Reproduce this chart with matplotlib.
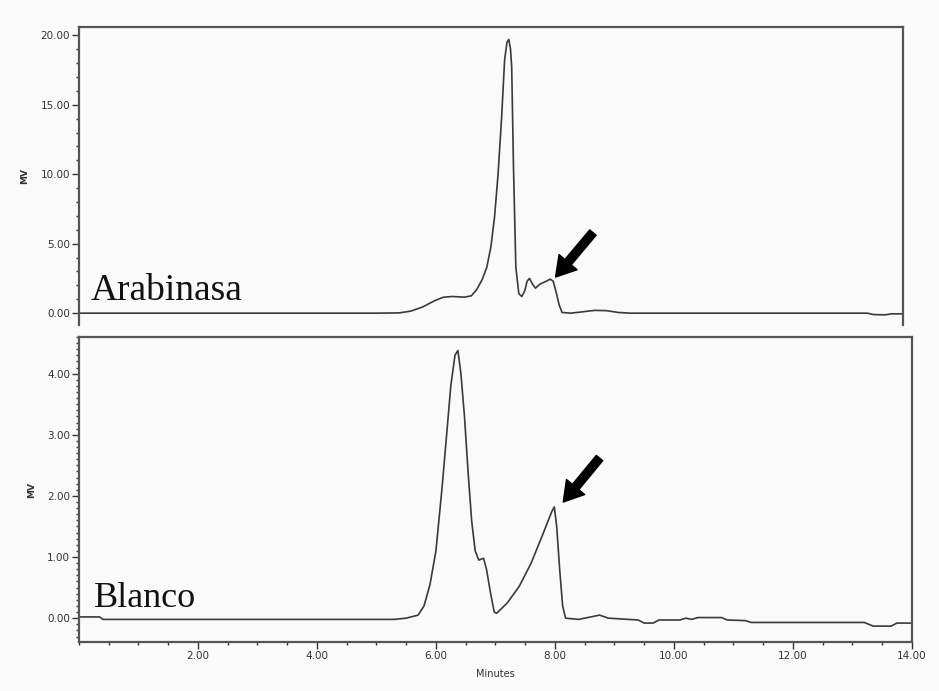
import matplotlib.pyplot as plt
from matplotlib.ticker import MultipleLocator, FormatStrFormatter

# Arabinasa chromatogram (minutes, mV)
t_arab = [0.0, 5.0, 5.4, 5.6, 5.8, 6.0, 6.15, 6.3, 6.5, 6.62, 6.71, 6.8, 6.88,
          6.95, 7.01, 7.07, 7.13, 7.18, 7.22, 7.25, 7.28, 7.3, 7.33, 7.37, 7.42,
          7.47, 7.52, 7.56, 7.6, 7.65, 7.7, 7.78, 7.86, 7.95, 8.0, 8.05, 8.1,
          8.15, 8.3, 8.5, 8.7, 8.9, 9.1, 9.3, 13.3, 13.4, 13.6, 13.7, 13.9]
y_arab = [0.0, 0.0, 0.02, 0.15, 0.45, 0.9, 1.15, 1.2, 1.15, 1.25, 1.7, 2.4, 3.3,
          4.8, 6.9, 10.0, 14.1, 18.2, 19.5, 19.7, 19.0, 17.7, 10.5, 3.3, 1.4,
          1.2, 1.6, 2.3, 2.5, 2.1, 1.8, 2.1, 2.25, 2.45, 2.3, 1.5, 0.6,
          0.05, 0.0, 0.1, 0.2, 0.18, 0.05, 0.0, 0.0, -0.1, -0.12, -0.05, -0.05]

# Blanco chromatogram
t_blan = [0.0, 0.35, 0.4, 5.3, 5.5, 5.7, 5.8, 5.9, 6.0, 6.1, 6.18, 6.25, 6.32,
          6.37, 6.42, 6.48, 6.54, 6.6, 6.66, 6.72, 6.8, 6.85, 6.92, 6.98, 7.02,
          7.2, 7.4, 7.6, 7.8, 7.95, 7.99, 8.03, 8.08, 8.13, 8.18, 8.4, 8.6,
          8.75, 8.9, 9.4, 9.5, 9.65, 9.75, 10.1, 10.2, 10.3, 10.4, 10.8, 10.9,
          11.2, 11.3, 13.2, 13.35, 13.65, 13.75, 14.0]
y_blan = [0.02, 0.02, -0.02, -0.02, 0.0, 0.05, 0.2, 0.55, 1.1, 2.1, 3.0, 3.8, 4.3,
          4.38, 4.0, 3.3, 2.4, 1.6, 1.1, 0.95, 0.98, 0.8, 0.4, 0.1, 0.08,
          0.25, 0.52, 0.9, 1.38, 1.75, 1.82, 1.5, 0.8, 0.2, 0.0, -0.02, 0.02,
          0.05, 0.0, -0.03, -0.08, -0.08, -0.03, -0.03, 0.0, -0.02, 0.01, 0.01, -0.03,
          -0.04, -0.07, -0.07, -0.13, -0.13, -0.08, -0.08]

# arrow tips / tails (minutes, mV)
arrow_arab = ((8.04, 2.6), (8.67, 5.8))
arrow_blan = ((8.14, 1.9), (8.75, 2.62))

bg = '#fafafa'
line_c = '#3a3a3a'
spine_c = '#555555'

fig = plt.figure(figsize=(9.39, 6.91), dpi=100, facecolor=bg)
ax1 = fig.add_axes([0.0841, 0.5297, 0.8775, 0.4313], facecolor=bg)
ax2 = fig.add_axes([0.0841, 0.0709, 0.887, 0.4414], facecolor=bg)

for ax in (ax1, ax2):
    for s in ax.spines.values():
        s.set_color(spine_c)
        s.set_linewidth(1.6)
    ax.tick_params(which='major', length=5, width=1, color='#333333',
                   labelsize=7.5, labelcolor='#333333', pad=1.5)
    ax.tick_params(which='minor', length=2.5, width=1, color='#333333')
    ax.yaxis.set_major_formatter(FormatStrFormatter('%.2f'))
    ax.set_ylabel('MV', fontsize=6.5, fontweight='bold', color='#333333', labelpad=8)

arrow_style = dict(facecolor='black', edgecolor='black', width=6,
                   headwidth=17, headlength=14)

# top panel
ax1.plot(t_arab, y_arab, color=line_c, lw=1.2)
ax1.set_xlim(0, 13.9)
ax1.set_ylim(-0.85, 20.6)
ax1.yaxis.set_major_locator(MultipleLocator(5))
ax1.yaxis.set_minor_locator(MultipleLocator(1))
ax1.spines['bottom'].set_visible(False)
ax1.set_xticks([])
ax1.text(0.2, 0.35, 'Arabinasa', family='Liberation Serif', fontsize=27,
         color='#111111', va='bottom', ha='left')
ax1.annotate('', xy=arrow_arab[0], xytext=arrow_arab[1], arrowprops=arrow_style)

# bottom panel
ax2.plot(t_blan, y_blan, color=line_c, lw=1.2)
ax2.set_xlim(0, 14)
ax2.set_ylim(-0.39, 4.6)
ax2.yaxis.set_major_locator(MultipleLocator(1))
ax2.yaxis.set_minor_locator(MultipleLocator(0.1))
ax2.xaxis.set_minor_locator(MultipleLocator(0.5))
ax2.set_xticks([2, 4, 6, 8, 10, 12, 14])
ax2.xaxis.set_major_formatter(FormatStrFormatter('%.2f'))
ax2.set_xlabel('Minutes', fontsize=7, color='#333333', labelpad=6)
ax2.text(0.25, 0.05, 'Blanco', family='Liberation Serif', fontsize=26,
         color='#111111', va='bottom', ha='left')
ax2.annotate('', xy=arrow_blan[0], xytext=arrow_blan[1], arrowprops=arrow_style)

fig.savefig('out.png', dpi=100, facecolor=bg)
